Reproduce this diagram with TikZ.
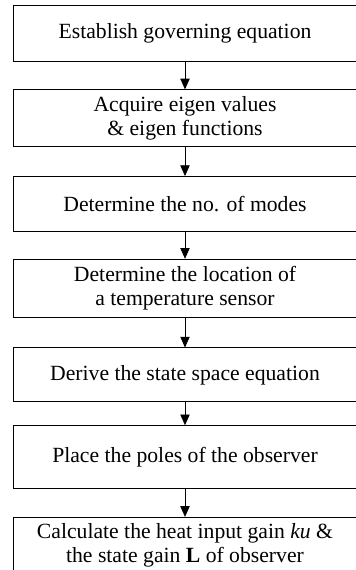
\documentclass[tikz,border=0pt]{standalone}
\usepackage{fontspec}
\setmainfont{Liberation Serif}
\usetikzlibrary{arrows.meta, positioning}
\tikzset{
  stepbox/.style = {rectangle, draw, line width=0.6pt, minimum width=10.32cm, align=center, inner sep=0pt, font=\fontsize{18.5}{21}\selectfont},
  arrow/.style = {-{Triangle[length=0.32cm, width=0.28cm]}, line width=0.6pt}
}

\begin{document}
\begin{tikzpicture}
\useasboundingbox (0,0) rectangle (10.65,-17.1);

\node[stepbox, minimum height=1.68cm] (establish) at (5.55,-0.99) {Establish governing equation};
\node[stepbox, minimum height=1.71cm, below=0.84cm of establish] (acquire) {Acquire eigen values\\ \& eigen functions};
\node[stepbox, minimum height=1.65cm, below=0.87cm of acquire] (modes) {Determine the no. of modes};
\node[stepbox, minimum height=1.74cm, below=0.81cm of modes] (sensor) {Determine the location of\\ a temperature sensor};
\node[stepbox, minimum height=1.62cm, below=0.90cm of sensor] (statespace) {Derive the state space equation};
\node[stepbox, minimum height=1.89cm, below=0.69cm of statespace] (poles) {Place the poles of the observer};
\node[stepbox, minimum height=1.68cm, below=0.84cm of poles] (gains) {Calculate the heat input gain \textit{ku} \&\\ the state gain \textbf{L} of observer};

\draw[arrow] (establish) -- (acquire);
\draw[arrow] (acquire) -- (modes);
\draw[arrow] (modes) -- (sensor);
\draw[arrow] (sensor) -- (statespace);
\draw[arrow] (statespace) -- (poles);
\draw[arrow] (poles) -- (gains);

\end{tikzpicture}
\end{document}
